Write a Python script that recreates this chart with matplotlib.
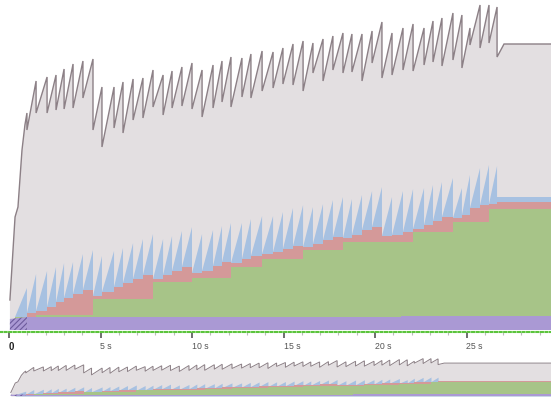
import matplotlib
matplotlib.use('Agg')
from matplotlib import pyplot as plt
import numpy as np

plt.rcParams['font.family'] = ['Liberation Sans', 'DejaVu Sans']
plt.rcParams['hatch.linewidth'] = 0.8

# GC events (s) - each tooth of the sawtooth ends at one of these
drop_t = [0.98, 1.48, 2.08, 2.57, 3.01, 3.50, 4.04, 4.59, 5.08, 5.74, 6.23, 6.78,
          7.32, 7.87, 8.42, 8.91, 9.45, 10.00, 10.55, 11.15, 11.64, 12.13, 12.73,
          13.22, 13.83, 14.43, 14.97, 15.52, 16.07, 16.61, 17.16, 17.70, 18.25,
          18.74, 19.29, 19.84, 20.38, 20.93, 21.53, 22.08, 22.68, 23.17, 23.66,
          24.26, 24.75, 25.19, 25.74, 26.23, 26.67]

# total memory: peak before each GC, and value just after it
total_peak = [217, 249, 253, 255, 261, 266, 269, 271, 243, 243, 248, 251, 252, 260,
              255, 259, 263, 267, 260, 265, 269, 273, 272, 276, 279, 278, 282, 286,
              289, 287, 291, 294, 297, 296, 296, 299, 308, 297, 302, 306, 302, 309,
              312, 317, 315, 302, 325, 325, 323]
total_low = [200, 217, 217, 220, 221, 222, 232, 200, 183, 202, 197, 210, 212, 223,
             215, 222, 224, 221, 213, 222, 228, 223, 233, 232, 239, 242, 246, 245,
             239, 257, 249, 260, 257, 258, 249, 267, 252, 255, 260, 259, 265, 268,
             264, 270, 262, 285, 282, 287, 273]
start_t = [0.05, 0.33, 0.49, 0.71, 0.87]
start_total = [30, 113, 123, 180, 205]
settle_t = 27.05
end_t = 34.0
total_end = 286

# stacked levels (cumulative) per tooth
young_peak = [42, 56, 59, 63, 67, 68, 76, 80, 74, 79, 82, 87, 91, 96, 91, 94, 99, 103,
              96, 100, 104, 107, 107, 111, 114, 114, 118, 122, 125, 123, 126, 130,
              133, 131, 135, 139, 143, 133, 139, 141, 142, 145, 148, 152, 142, 155,
              162, 165, 164]
survivor_lvl = [13, 17, 19, 23, 28, 32, 36, 40, 34, 38, 43, 47, 51, 55, 51, 55, 59, 63,
                57, 59, 64, 68, 67, 71, 74, 76, 78, 81, 84, 83, 86, 90, 93, 92, 95, 100,
                103, 94, 95, 98, 101, 105, 109, 113, 112, 115, 122, 125, 126]
old_lvl = [13, 13, 15, 15, 15, 15, 15, 15, 31, 31, 31, 31, 31, 31, 48, 48, 48, 48,
           52, 52, 52, 52, 63, 63, 63, 71, 71, 71, 71, 80, 80, 80, 80, 88, 88, 88, 88,
           88, 88, 88, 98, 98, 98, 98, 108, 108, 108, 108, 121]
young_end, survivor_end, old_end = 133, 128, 121

code_t = [0.98, 21.4, 34.0]
code_lvl = [13, 13, 14]
loading_t = [0.05, 0.98]
loading_lvl = [11, 13]

tick_pos = [0, 5, 10, 15, 20, 25]
tick_labels = ['0', '5 s', '10 s', '15 s', '20 s', '25 s']

GRAY_FILL = '#e3dfe1'
GRAY_LINE = '#8c8086'
BLUE = '#a7c1e1'
RED = '#d49999'
GREEN = '#a7c488'
PURPLE = '#aa99d4'

# build the outlines
tot_t = list(start_t)
tot_v = list(start_total)
blue_t = [start_t[1]]
blue_v = [survivor_lvl[0]]
n = len(drop_t)
for k in range(n):
    tot_t += [drop_t[k], drop_t[k]]
    tot_v += [total_peak[k], total_low[k]]
    blue_t += [drop_t[k], drop_t[k]]
    blue_v += [young_peak[k], survivor_lvl[k + 1] if k + 1 < n else young_end]
tot_t += [settle_t, end_t]
tot_v += [total_end, total_end]
blue_t.append(end_t)
blue_v.append(young_end)

step_t = [start_t[1]] + drop_t + [end_t]
red_v = [survivor_lvl[0]] + survivor_lvl + [survivor_end]
green_v = [old_lvl[0]] + old_lvl + [old_end]


def draw(ax, lw):
    ax.fill_between(tot_t, 0, tot_v, color=GRAY_FILL, lw=0)
    ax.plot(tot_t, tot_v, color=GRAY_LINE, lw=lw, solid_joinstyle='miter')
    ax.fill_between(blue_t, 0, blue_v, color=BLUE, lw=0)
    ax.fill_between(step_t, 0, red_v, step='pre', color=RED, lw=0)
    ax.fill_between(step_t, 0, green_v, step='pre', color=GREEN, lw=0)
    ax.fill_between(code_t, 0, code_lvl, step='pre', color=PURPLE, lw=0)
    ax.fill_between(loading_t, 0, loading_lvl, facecolor=PURPLE, edgecolor='#6c5a9c',
                    hatch='//////', lw=0)
    for s in ax.spines.values():
        s.set_visible(False)
    ax.set_yticks([])


fig = plt.figure(figsize=(5.51, 3.97), dpi=100)

# main timeline
ax = fig.add_axes([0, 65 / 397, 1, 332 / 397])
draw(ax, 1.0)
ax.set_xlim(-9 / 18.3, 542 / 18.3)
ax.set_ylim(-2, 330)
ax.spines['bottom'].set_visible(True)
ax.spines['bottom'].set_color('#5cc43c')
ax.spines['bottom'].set_linestyle((0, (1, 1.2)))
ax.spines['bottom'].set_linewidth(1.5)
ax.set_xticks(tick_pos, tick_labels)
ax.set_xticks(np.arange(0, 30), minor=True)
ax.tick_params(axis='x', which='major', length=4, width=1.2, color='#555555',
               labelsize=6.3, labelcolor='#555555', pad=3)
ax.tick_params(axis='x', which='minor', length=2.5, width=0.8, color='#bbbbbb')
for i, lab in enumerate(ax.get_xticklabels()):
    lab.set_horizontalalignment('left')
    if i == 0:
        lab.set_fontweight('bold')
        lab.set_color('#222222')
        lab.set_fontsize(7)

# overview strip
ax2 = fig.add_axes([0, 0, 1, 40 / 397])
draw(ax2, 0.7)
ax2.set_xlim(-10 / 16.05, 541 / 16.05)
ax2.set_ylim(-8.7, 339)
ax2.set_xticks([])

plt.savefig('out.png', dpi=100)
